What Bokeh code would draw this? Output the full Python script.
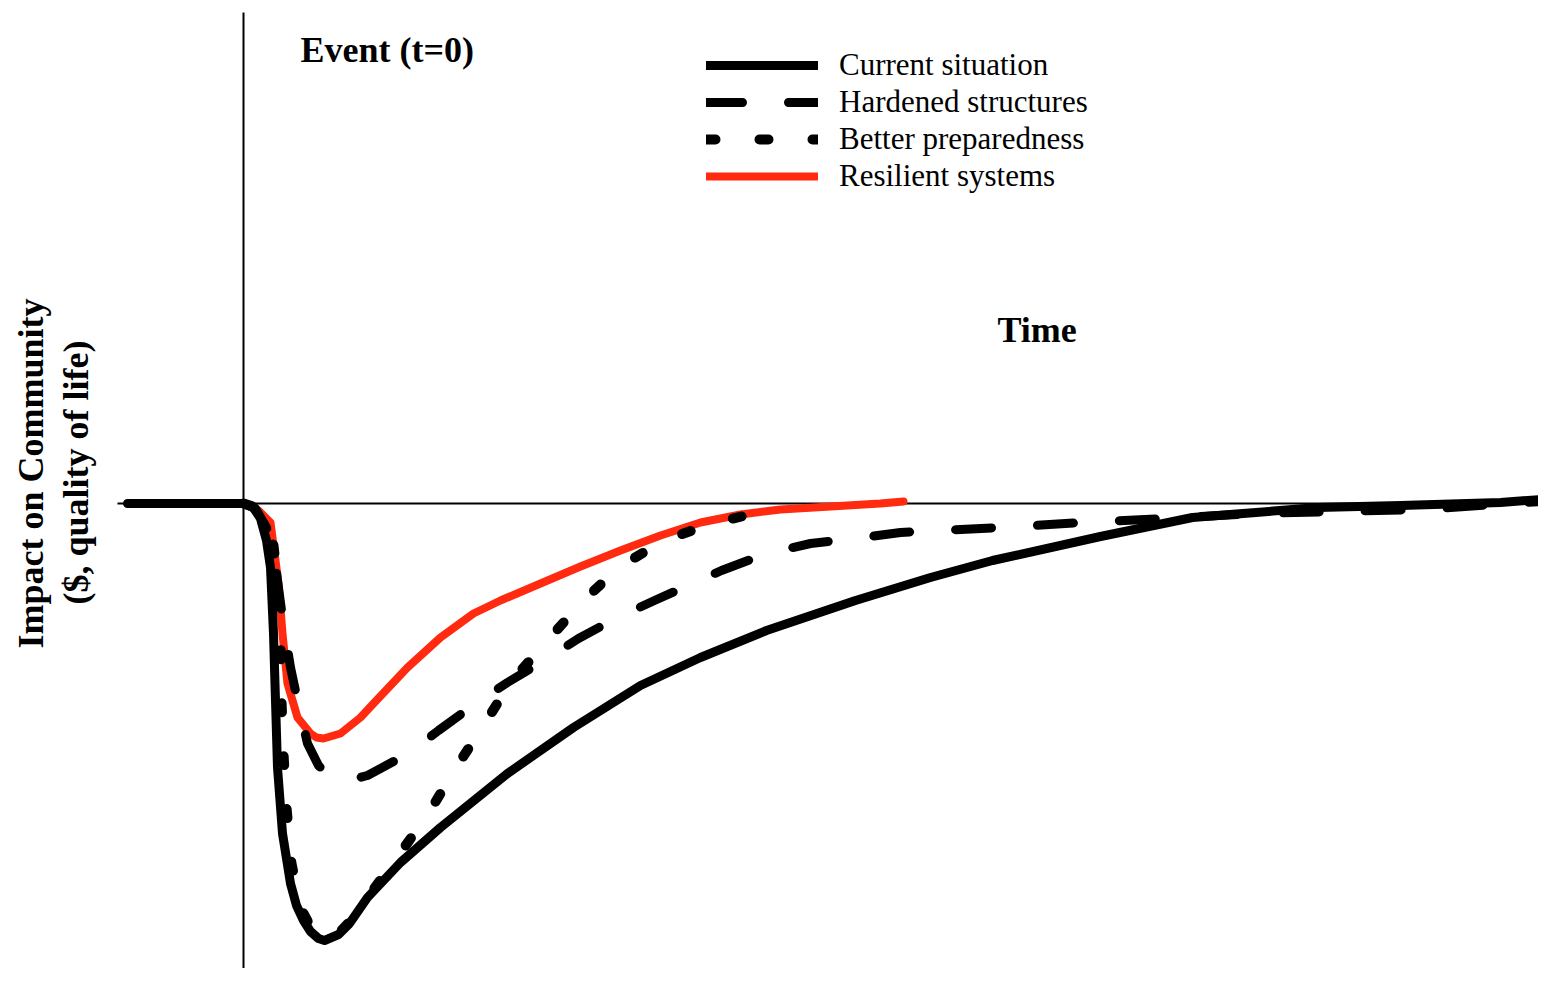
from bokeh.plotting import figure
from bokeh.models import Legend, LegendItem, Range1d
from bokeh.core.properties import value
from bokeh.embed import file_html
from bokeh.resources import INLINE
import math

# ---- data (time units after the event, impact units; 0 = baseline) ----
current_t = [-1.16, 0.00, 0.09, 0.17, 0.23, 0.27, 0.30, 0.32, 0.34, 0.39, 0.47, 0.53, 0.60, 0.67, 0.75, 0.81,
             0.95, 1.06, 1.24, 1.57, 1.97, 2.64, 3.30, 3.97, 4.57, 5.23, 6.12, 6.87, 7.49, 8.57, 9.49,
             10.74, 11.57, 12.57, 13.11]
current_v = [0.00, 0.00, -0.03, -0.15, -0.37, -0.64, -1.30, -1.97, -2.64, -3.30, -3.80, -4.02, -4.17, -4.28, -4.35, -4.37,
             -4.31, -4.20, -3.94, -3.59, -3.24, -2.70, -2.24, -1.82, -1.54, -1.27, -0.97, -0.74, -0.57, -0.33, -0.14,
             -0.04, -0.02, 0.01, 0.05]

hardened_t = [0.00, 0.12, 0.23, 0.30, 0.39, 0.47, 0.54, 0.64, 0.75, 0.87, 1.05, 1.24, 1.65, 1.95,
              2.32, 2.64, 3.04, 3.35, 3.74, 4.11, 4.78, 5.23, 5.67, 6.12, 6.57, 7.57, 8.40, 9.24,
              10.11, 10.94, 11.78, 13.11]
hardened_v = [0.00, -0.05, -0.24, -0.47, -1.14, -1.64, -1.97, -2.40, -2.62, -2.74, -2.77, -2.72, -2.50, -2.27,
              -2.00, -1.79, -1.55, -1.35, -1.14, -0.97, -0.67, -0.50, -0.40, -0.35, -0.29, -0.24, -0.19, -0.15,
              -0.10, -0.08, -0.06, 0.03]

prepared_t = [0.00, 0.09, 0.19, 0.30, 0.35, 0.37, 0.38, 0.40, 0.43, 0.48, 0.57, 0.69, 0.80, 0.95,
              1.12, 1.27, 1.55, 1.85, 2.12, 2.40, 2.67, 3.04, 3.37, 3.75, 4.20, 4.69, 5.23, 5.35]
prepared_v = [0.00, -0.03, -0.17, -0.42, -0.87, -1.37, -1.97, -2.50, -3.04, -3.60, -4.04, -4.27, -4.34, -4.30,
              -4.12, -3.90, -3.52, -3.10, -2.65, -2.22, -1.79, -1.37, -1.00, -0.64, -0.37, -0.20, -0.07, -0.03]

resilient_t = [0.00, 0.15, 0.27, 0.35, 0.39, 0.44, 0.54, 0.67, 0.73, 0.80, 0.97, 1.17, 1.30, 1.64, 1.97,
               2.30, 2.57, 2.97, 3.37, 3.77, 4.17, 4.57, 4.97, 5.37, 5.87, 6.37, 6.60]
resilient_v = [0.00, -0.07, -0.19, -0.80, -1.30, -1.80, -2.14, -2.30, -2.34, -2.35, -2.30, -2.14, -2.00, -1.64, -1.34,
               -1.10, -0.97, -0.80, -0.63, -0.47, -0.32, -0.19, -0.11, -0.06, -0.03, -0.00, 0.02]

series_labels = ["Current situation", "Hardened structures", "Better preparedness", "Resilient systems"]

# ---- figure ----
W, H = 1538, 968
p = figure(width=W, height=H, output_backend="svg", toolbar_location=None,
           x_range=Range1d(-2.43, 12.95), y_range=Range1d(-4.65, 5.03),
           min_border=0, outline_line_color=None)
p.xaxis.visible = False
p.yaxis.visible = False
p.xgrid.visible = False
p.ygrid.visible = False
p.background_fill_color = "white"

# axis lines (time axis and event line)
ax_t0, ax_t1 = -1.26, 13.2
ax_v0, ax_v1 = -5.0, 4.91
p.segment(x0=[ax_t0], y0=[0], x1=[ax_t1], y1=[0], line_color="black", line_width=2)
p.segment(x0=[0], y0=[ax_v0], x1=[0], y1=[ax_v1], line_color="black", line_width=2)

red = "#ff2a10"
r_res = p.line(resilient_t, resilient_v, line_color=red, line_width=8, line_cap="round", line_join="round")
r_hard = p.line(hardened_t, hardened_v, line_color="black", line_width=9, line_dash="36 46",
                line_cap="round", line_join="round")
r_prep = p.line(prepared_t, prepared_v, line_color="black", line_width=10, line_dash="9 44",
                line_cap="round", line_join="round")
r_cur = p.line(current_t, current_v, line_color="black", line_width=9, line_cap="round", line_join="round")

legend = Legend(items=[
    LegendItem(label=series_labels[0], renderers=[r_cur]),
    LegendItem(label=series_labels[1], renderers=[r_hard]),
    LegendItem(label=series_labels[2], renderers=[r_prep]),
    LegendItem(label=series_labels[3], renderers=[r_res]),
], location=(706, 774), orientation="vertical")
legend.glyph_width = 112
legend.glyph_height = 30
legend.label_height = 30
legend.spacing = 1
legend.padding = 0
legend.margin = 0
legend.label_standoff = 21
legend.border_line_color = None
legend.background_fill_alpha = 0
legend.label_text_font = "Liberation Serif"
legend.label_text_font_size = "31px"
legend.label_text_color = "black"
legend.click_policy = "none"
p.add_layout(legend, "center")

serif = value("Liberation Serif")
p.text(x=[0.57], y=[4.54], text=["Event (t=0)"], text_font=serif, text_font_size="36px",
       text_font_style="bold", text_baseline="middle", text_align="left", text_color="black")
p.text(x=[7.54], y=[1.74], text=["Time"], text_font=serif, text_font_size="36px",
       text_font_style="bold", text_baseline="middle", text_align="left", text_color="black")
p.text(x=[-2.13, -1.68], y=[0.30, 0.31], text=["Impact on Community", "($, quality of life)"],
       text_font=serif, text_font_size="36px", text_font_style="bold", angle=math.pi / 2,
       text_baseline="middle", text_align="center", text_color="black")

open("out.html", "w").write(file_html(p, INLINE))
